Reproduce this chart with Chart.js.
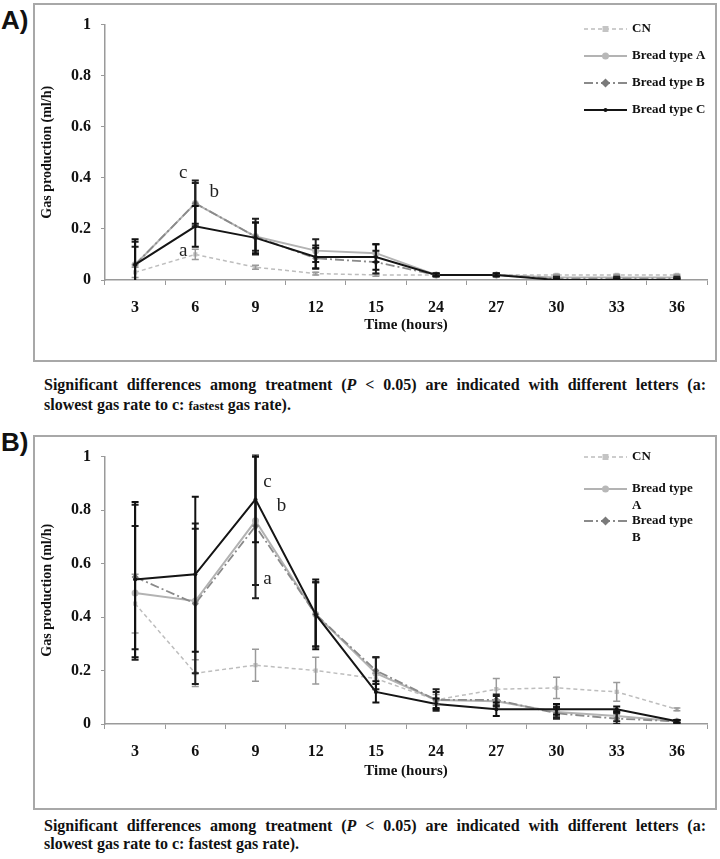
<!DOCTYPE html>
<html>
<head>
<meta charset="utf-8">
<script src="https://cdn.jsdelivr.net/npm/chart.js"></script>
<style>
  html, body { margin: 0; padding: 0; background: #fff; }
  body { width: 720px; height: 859px; position: relative; overflow: hidden; font-family: "Liberation Serif", "Times New Roman", serif; color: #111; }
  .panel { position: absolute; left: 33px; width: 684px; box-sizing: border-box; border: 2px solid #a8a8a8; }
  .panel canvas { display: block; }
  #boxA { top: 3px; height: 359px; }
  #boxB { top: 435px; height: 375px; }
  .tag { position: absolute; left: 1px; font-family: "Liberation Sans", Arial, sans-serif; font-weight: bold; font-size: 26px; line-height: 26px; }
  .cap { position: absolute; left: 44px; width: 662px; font-weight: bold; font-size: 16px; }
  .cap .l1 { text-align: justify; text-align-last: justify; }
  #capA { top: 375px; line-height: 20px; }
  #capB { top: 817px; line-height: 18px; }
  .small { font-size: 13px; }
</style>
</head>
<body>
<div class="tag" style="top:7px">A)</div>
<div class="panel" id="boxA"><canvas id="chartA" width="680" height="355"></canvas></div>
<div class="cap" id="capA">
  <div class="l1">Significant differences among treatment (<i>P</i> &lt; 0.05) are indicated with different letters (a:</div>
  <div>slowest gas rate to c: <span class="small">fastest</span> gas rate).</div>
</div>

<div class="tag" style="top:429px">B)</div>
<div class="panel" id="boxB"><canvas id="chartB" width="680" height="371"></canvas></div>
<div class="cap" id="capB">
  <div class="l1">Significant differences among treatment (<i>P</i> &lt; 0.05) are indicated with different letters (a:</div>
  <div>slowest gas rate to c: fastest gas rate).</div>
</div>

<script>
// ---- data ----
const hours = ['3', '6', '9', '12', '15', '24', '27', '30', '33', '36'];
const seriesNames = ['CN', 'Bread type A', 'Bread type B', 'Bread type C'];

// panel A (means, ml/h)
const cnA    = [0.03, 0.10, 0.05, 0.025, 0.02, 0.02, 0.02, 0.02, 0.02, 0.02];
const typeAA = [0.06, 0.30, 0.17, 0.115, 0.105, 0.02, 0.02, 0.01, 0.01, 0.01];
const typeBA = [0.06, 0.30, 0.17, 0.085, 0.07, 0.02, 0.02, 0.005, 0.005, 0.005];
const typeCA = [0.06, 0.21, 0.165, 0.09, 0.09, 0.02, 0.02, 0, 0, 0];
// panel A error bars (+/-)
const cnErrA    = [0.02, 0.02, 0.008, 0.005, 0.005, 0.003, 0.003, 0.003, 0.003, 0.003];
const typeAErrA = [0.09, 0.09, 0.07, 0.045, 0.035, 0.005, 0.005, 0.003, 0.003, 0.003];
const typeBErrA = [0.07, 0.08, 0.055, 0.04, 0.045, 0.005, 0.005, 0.003, 0.003, 0.003];
const typeCErrA = [0.1, 0.08, 0.06, 0.045, 0.05, 0.005, 0.005, 0.003, 0.003, 0.003];

// panel B (means, ml/h)
const cnB    = [0.45, 0.19, 0.22, 0.20, 0.17, 0.09, 0.13, 0.135, 0.12, 0.055];
const typeAB = [0.49, 0.46, 0.76, 0.41, 0.19, 0.09, 0.085, 0.045, 0.03, 0.01];
const typeBB = [0.55, 0.45, 0.74, 0.41, 0.20, 0.09, 0.09, 0.04, 0.02, 0.01];
const typeCB = [0.54, 0.56, 0.84, 0.41, 0.12, 0.075, 0.055, 0.055, 0.055, 0.01];
// panel B error bars (+/-)
const cnErrB    = [0.11, 0.05, 0.06, 0.05, 0.02, 0.02, 0.04, 0.04, 0.035, 0.005];
const typeAErrB = [0.25, 0.27, 0.24, 0.12, 0.06, 0.04, 0.02, 0.02, 0.02, 0.005];
const typeBErrB = [0.27, 0.30, 0.27, 0.12, 0.05, 0.03, 0.02, 0.02, 0.02, 0.005];
const typeCErrB = [0.29, 0.29, 0.16, 0.13, 0.04, 0.02, 0.025, 0.02, 0.01, 0.005];

// significance letters: [letter, hour, value]
const lettersA = [['c', '6', 0.42], ['b', '6', 0.346], ['a', '6', 0.113]];
const lettersB = [['c', '9', 0.906], ['b', '9', 0.816], ['a', '9', 0.543]];

const legendTextA = [['CN'], ['Bread type A'], ['Bread type B'], ['Bread type C']];
const legendTextB = [['CN'], ['Bread type', 'A'], ['Bread type', 'B']];

// ---- styles ----
const SERIF = '"Liberation Serif", "Times New Roman", serif';
const lineColors   = ['#bdbdbd', '#b3b3b3', '#8a8a8a', '#151515'];
const markerColors = ['#c4c4c4', '#b8b8b8', '#7a7a7a', '#111111'];
const lineWidths   = [1.5, 2, 1.8, 2];
const lineDashes   = [[4, 3], [], [9, 3, 2, 3], []];
const markerStyles = ['rect', 'circle', 'rectRot', 'circle'];
const markerSizes  = [3, 3.5, 3.5, 2];
const errColors    = ['#9a9a9a', '#1f1f1f', '#1f1f1f', '#111111'];

function drawMarker(ctx, style, x, y, r, color) {
    ctx.save();
    ctx.fillStyle = color;
    ctx.beginPath();
    if (style === 'rect') ctx.rect(x - r, y - r, 2 * r, 2 * r);
    else if (style === 'rectRot') { ctx.moveTo(x, y - r * 1.3); ctx.lineTo(x + r * 1.3, y); ctx.lineTo(x, y + r * 1.3); ctx.lineTo(x - r * 1.3, y); ctx.closePath(); }
    else ctx.arc(x, y, r, 0, Math.PI * 2);
    ctx.fill();
    ctx.restore();
}

function buildChart(id, values, errors, legendText, legendRows, letters, belowAxis, titlePad) {
    const datasets = seriesNames.map((name, i) => ({
        label: name,
        data: values[i],
        errors: errors[i],
        borderColor: lineColors[i],
        backgroundColor: markerColors[i],
        pointBackgroundColor: markerColors[i],
        pointBorderColor: markerColors[i],
        pointBorderWidth: 0,
        borderWidth: lineWidths[i],
        borderDash: lineDashes[i],
        pointStyle: markerStyles[i],
        pointRadius: markerSizes[i],
        tension: 0,
        order: 3 - i
    }));

    const errorBars = {
        id: 'errorBars',
        afterDatasetsDraw(chart) {
            const {ctx, chartArea} = chart;
            const yScale = chart.scales.y;
            ctx.save();
            ctx.beginPath();
            ctx.rect(chartArea.left, chartArea.top - 2, chartArea.right - chartArea.left, chartArea.bottom - chartArea.top + 2);
            ctx.clip();
            chart.data.datasets.forEach((ds, i) => {
                const meta = chart.getDatasetMeta(i);
                ctx.strokeStyle = errColors[i];
                ctx.lineWidth = i === 0 ? 1.5 : 2;
                ds.data.forEach((v, j) => {
                    const e = ds.errors[j];
                    const x = meta.data[j].x;
                    const y1 = yScale.getPixelForValue(v + e);
                    const y2 = yScale.getPixelForValue(v - e);
                    ctx.beginPath();
                    ctx.moveTo(x, y1); ctx.lineTo(x, y2);
                    ctx.moveTo(x - 3.5, y1); ctx.lineTo(x + 3.5, y1);
                    ctx.moveTo(x - 3.5, y2); ctx.lineTo(x + 3.5, y2);
                    ctx.stroke();
                });
            });
            ctx.restore();
        }
    };

    const extras = {
        id: 'extras',
        afterDraw(chart) {
            const {ctx} = chart;
            // letters
            ctx.save();
            ctx.font = '19px ' + SERIF;
            ctx.fillStyle = '#222';
            ctx.textAlign = 'center';
            ctx.textBaseline = 'middle';
            letters.forEach(([t, h, v], k) => {
                const x = chart.scales.x.getPixelForValue(hours.indexOf(h));
                const dx = letters === lettersA ? [-12, 19, -12][k] : [12, 26, 12][k];
                ctx.fillText(t, x + dx, chart.scales.y.getPixelForValue(v));
            });
            ctx.restore();
            // legend
            ctx.save();
            ctx.font = 'bold 13px ' + SERIF;
            ctx.fillStyle = '#111';
            ctx.textBaseline = 'middle';
            legendText.forEach((lines, i) => {
                const y = legendRows[i];
                const x0 = 549, x1 = 592;
                ctx.strokeStyle = lineColors[i];
                ctx.lineWidth = lineWidths[i];
                ctx.setLineDash(lineDashes[i]);
                ctx.beginPath(); ctx.moveTo(x0, y); ctx.lineTo(x1, y); ctx.stroke();
                ctx.setLineDash([]);
                drawMarker(ctx, markerStyles[i], (x0 + x1) / 2, y, markerSizes[i], markerColors[i]);
                lines.forEach((s, k) => ctx.fillText(s, 597, y + k * 17));
            });
            ctx.restore();
        }
    };

    const tickFont = {family: SERIF, weight: 'bold', size: 16};
    return new Chart(document.getElementById(id), {
        type: 'line',
        data: {labels: hours, datasets: datasets},
        plugins: [errorBars, extras],
        options: {
            responsive: false,
            animation: false,
            layout: {padding: {top: 18, right: 8, bottom: 0, left: 0}},
            plugins: {legend: {display: false}, tooltip: {enabled: false}},
            scales: {
                x: {
                    offset: true,
                    grid: {offset: true, drawOnChartArea: false, drawTicks: true, tickLength: 5, color: '#9a9a9a'},
                    border: {color: '#9a9a9a', width: 1.5},
                    ticks: {color: '#111', font: tickFont, padding: 13, maxRotation: 0, autoSkip: false},
                    title: {display: true, text: 'Time (hours)', color: '#111', font: {family: SERIF, weight: 'bold', size: 15}, padding: {top: 0, bottom: titlePad}},
                    afterFit: s => { s.height = belowAxis; }
                },
                y: {
                    min: 0, max: 1,
                    grid: {drawOnChartArea: false, drawTicks: true, tickLength: 4, color: '#9a9a9a'},
                    border: {color: '#9a9a9a', width: 1.5},
                    ticks: {stepSize: 0.2, color: '#111', font: tickFont, padding: 10,
                        callback: v => String(Math.round(v * 10) / 10)},
                    title: {display: true, text: 'Gas production (ml/h)', color: '#111', font: {family: SERIF, weight: 'bold', size: 14}, padding: {top: 4, bottom: 0}},
                    afterFit: s => { s.width = 70; }
                }
            }
        }
    });
}

buildChart('chartA', [cnA, typeAA, typeBA, typeCA], [cnErrA, typeAErrA, typeBErrA, typeCErrA],
    legendTextA, [24, 51, 78, 105], lettersA, 80, 26);
buildChart('chartB', [cnB, typeAB, typeBB, typeCB], [cnErrB, typeAErrB, typeBErrB, typeCErrB],
    legendTextB, [20, 52, 84], lettersB, 84, 28);
</script>
</body>
</html>
